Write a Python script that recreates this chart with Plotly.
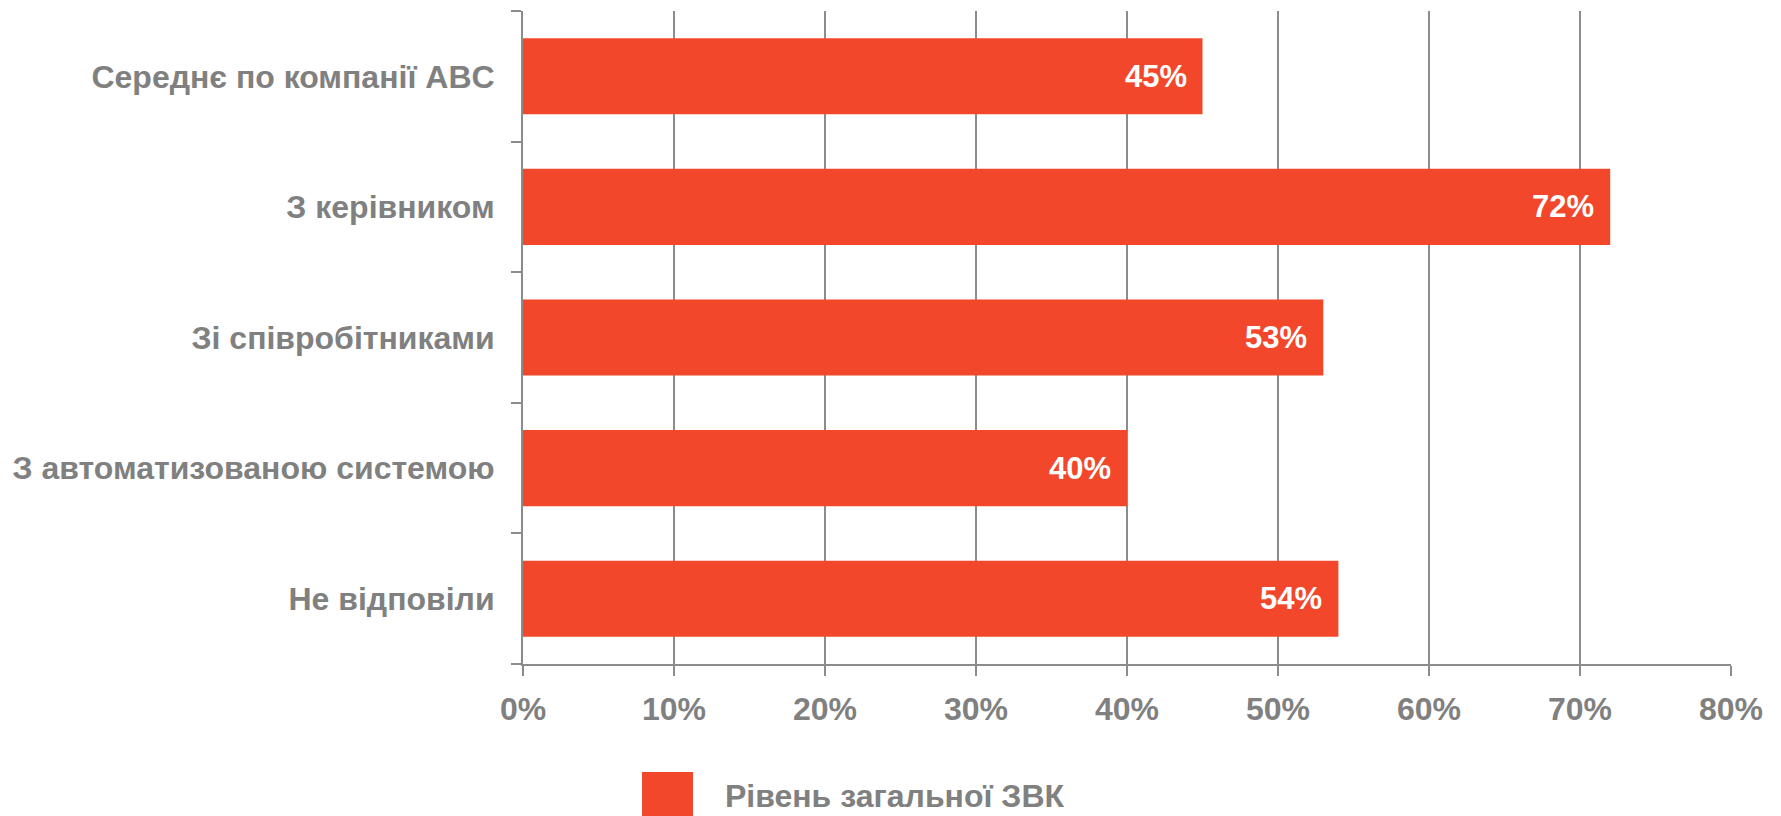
import plotly.graph_objects as go

# Survey results: overall level per communication channel
categories = [
    "Середнє по компанії ABC",
    "З керівником",
    "Зі співробітниками",
    "З автоматизованою системою",
    "Не відповіли",
]
values = [45, 72, 53, 40, 54]  # percent
series_name = "Рівень загальної ЗВК"
x_ticks = [0, 10, 20, 30, 40, 50, 60, 70, 80]
x_tick_labels = [f"{t}%" for t in x_ticks]

W, H = 1781, 816
ML, MR, MT, MB = 523, 50, 11, 152
PW, PH = W - ML - MR, H - MT - MB

BAR = "#F2472A"
GREY = "#808080"
LINE = "#8C8C8C"
FONT = "Liberation Sans Narrow, Arial Narrow, Liberation Sans, Arial, sans-serif"
FS = 32


def px_x(px):
    return (px - ML) / PW


def px_y(py):
    return (H - MB - py) / PH


fig = go.Figure()
fig.add_trace(go.Bar(
    x=values,
    y=categories,
    orientation="h",
    marker=dict(color=BAR, line=dict(width=0)),
    name=series_name,
    showlegend=False,
    hoverinfo="skip",
))

# value labels at the inner end of each bar
for cat, v in zip(categories, values):
    fig.add_annotation(
        x=v, y=cat, xref="x", yref="y",
        text=f"<b>{v}%</b>", showarrow=False,
        xanchor="right", yanchor="middle", xshift=-14,
        font=dict(family=FONT, size=31, color="white"),
    )

# legend key
fig.add_shape(
    type="rect", xref="paper", yref="paper",
    x0=px_x(642), x1=px_x(693), y0=px_y(830), y1=px_y(772),
    fillcolor=BAR, line=dict(width=0),
)
fig.add_annotation(
    xref="paper", yref="paper", x=px_x(723), y=px_y(796),
    text=f"<b>{series_name}</b>", showarrow=False,
    xanchor="left", yanchor="middle",
    font=dict(family=FONT, size=FS, color=GREY),
)

fig.update_layout(
    width=W, height=H,
    margin=dict(l=ML, r=MR, t=MT, b=MB, pad=0),
    paper_bgcolor="white", plot_bgcolor="white",
    bargap=0.417,
    showlegend=False,
    font=dict(family=FONT, size=FS, color=GREY),
)
fig.update_xaxes(
    range=[0, 80], tickvals=x_ticks,
    ticktext=[f"<b>{t}</b>" for t in x_tick_labels],
    showgrid=True, gridcolor=LINE, gridwidth=2,
    showline=True, linecolor=LINE, linewidth=2,
    ticks="outside", ticklen=10, tickwidth=2, tickcolor=LINE,
    ticklabelstandoff=6,
    zeroline=False, fixedrange=True,
    tickfont=dict(family=FONT, size=FS, color=GREY),
)
fig.update_yaxes(
    categoryorder="array", categoryarray=categories, autorange="reversed",
    tickvals=categories,
    ticktext=[f"<b>{c}</b>" for c in categories],
    showgrid=False,
    showline=True, linecolor=LINE, linewidth=2,
    ticks="outside", ticklen=10, tickwidth=2, tickcolor=LINE,
    tickson="boundaries", ticklabelstandoff=20,
    fixedrange=True,
    tickfont=dict(family=FONT, size=FS, color=GREY),
)

fig.write_html("out.html", config={"displayModeBar": False})
